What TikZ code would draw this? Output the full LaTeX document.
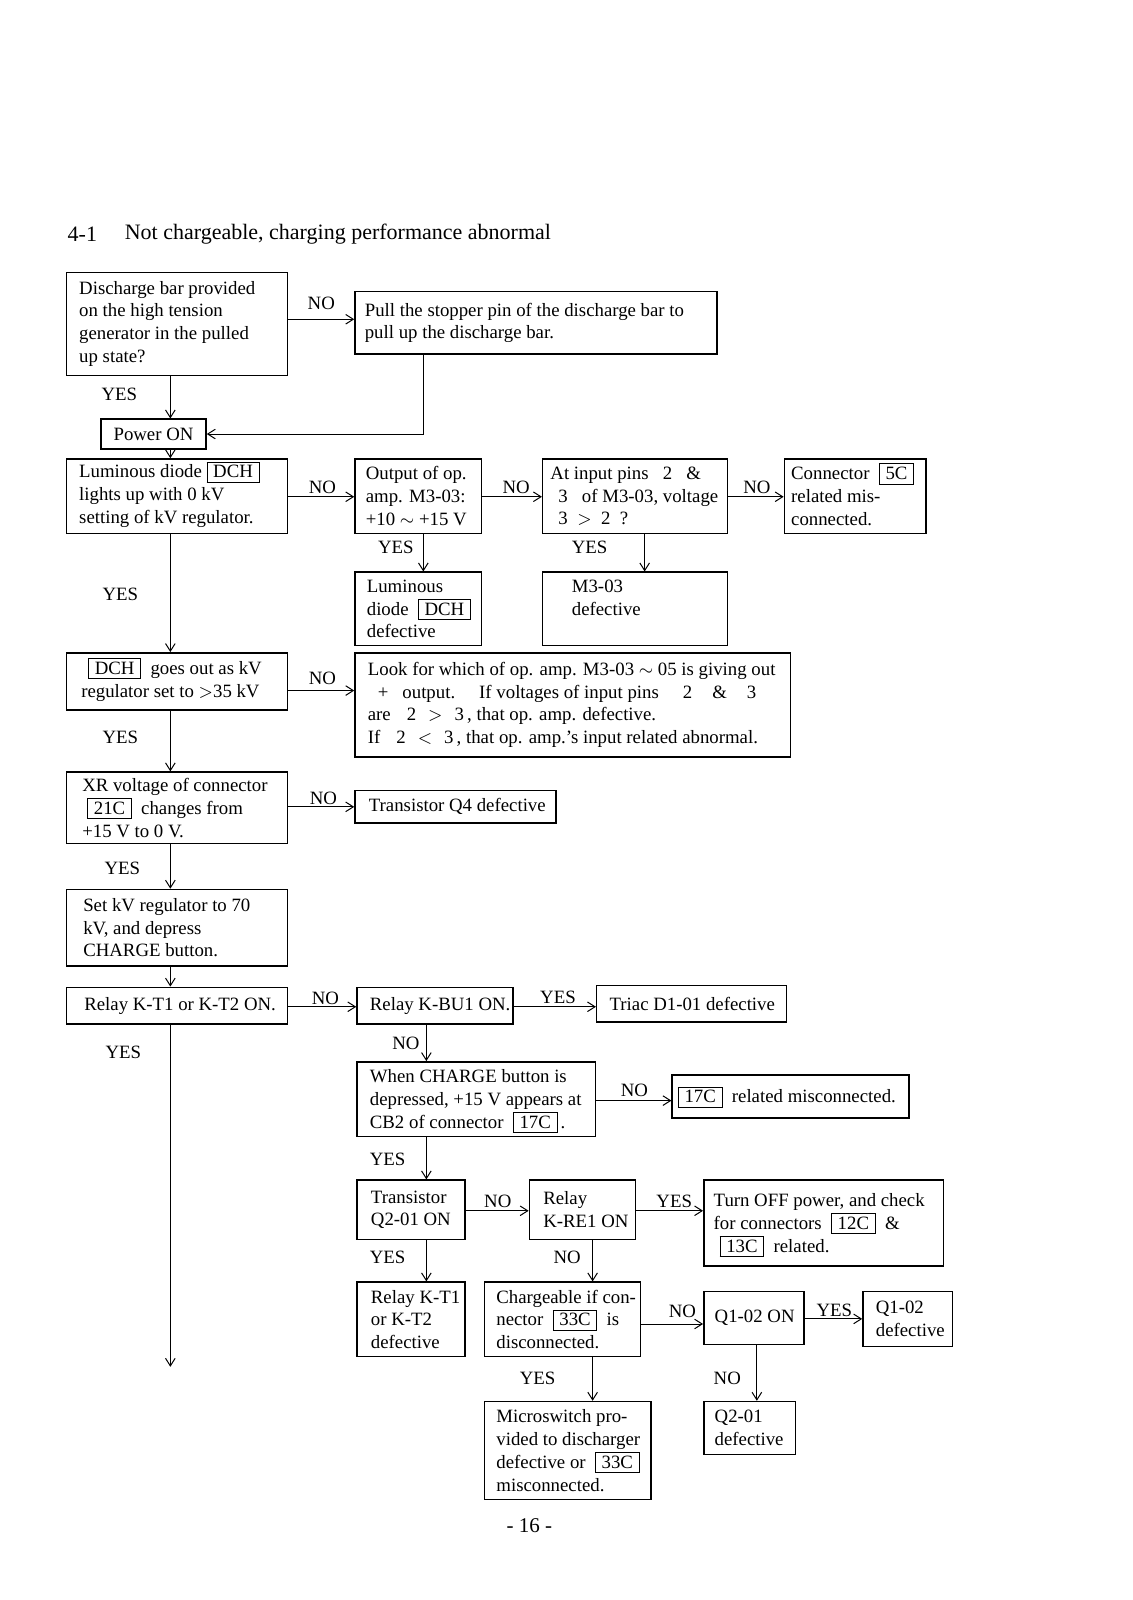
\documentclass[tikz,border=0pt]{standalone}
\usepackage{fontspec}
\setmainfont{Liberation Serif}
\usetikzlibrary{arrows.meta,fit,calc}
\newcommand\bx[1]{\smash{\setlength\fboxsep{0.8pt}\setlength\fboxrule{0.5pt}\fbox{\rule[-1.2pt]{0pt}{8pt}\hspace{2pt}#1\hspace{2pt}}}}
\newcommand\fb[7]{%
  \node[box, fit={(#2,#3) (#4,#5)}] (#1) {};
  \node[txt] (#1t) at ($(#1.west)+(#6,0)$) {#7};}
\begin{document}
\begin{tikzpicture}[x=0.51pt,y=-0.51pt,
  box/.style={draw, line width=0.75pt, inner sep=0pt},
  txt/.style={anchor=west, align=left, inner sep=0pt, font=\fontsize{9.4}{11.4}\selectfont},
  lab/.style={inner sep=0pt, font=\fontsize{9.4}{11.4}\selectfont},
  arr/.style={line width=0.5pt, -{Straight Barb[length=3.8pt,width=4.8pt]}},
  ln/.style={line width=0.5pt}]
\useasboundingbox (0,0) rectangle (1109.8,1568.6);
% title
\node[anchor=west, inner sep=0pt, font=\fontsize{11}{13}\selectfont] (ttl1) at (66,230) {4-1};
\node[anchor=west, inner sep=0pt, font=\fontsize{11}{13}\selectfont] (ttl2) at (122,230) {Not chargeable, charging performance abnormal};
% boxes
\fb{A}{65}{267}{282}{368}{13}{Discharge bar provided\\ on the high tension\\ generator in the pulled\\ up state?}
\fb{B}{348}{286}{703}{347}{10}{Pull the stopper pin of the discharge bar to\\ pull up the discharge bar.}
\node[box, fit={(99,411) (202,440)}] (PWR) {};
\node[lab] (PWRt) at (PWR.center) {Power ON};
\fb{C}{65}{450}{282}{523}{13}{Luminous diode \bx{DCH}\\ lights up with 0 kV\\ setting of kV regulator.}
\fb{D}{348}{450}{472}{523}{11}{Output of op.\\ amp. M3-03:\\ +10 $\sim$ +15 V}
\fb{E}{532}{450}{713}{523}{8}{At input pins\ \ \ 2\ \ \ \&\\ \hspace*{4pt}3\ \ \ of M3-03, voltage\\ \hspace*{4pt}3\ \ $>$\ \ 2\ \ ?}
\fb{F}{769}{450}{908}{523}{7}{Connector\ \ \bx{5C}\\ related mis-\\ connected.}
\fb{G}{348}{561}{472}{633}{12}{Luminous\\ diode\ \ \bx{DCH}\\ defective}
\node[box, fit={(532,561) (713,633)}] (H) {};
\node[txt] (Ht) at ($(H.west)+(29,-11)$) {M3-03\\ defective};
\fb{I}{65}{640}{282}{696}{15}{\hspace*{3.5pt}\bx{DCH}\ \ goes out as kV\\ regulator set to $>$35 kV}
\fb{J}{348}{640}{775}{742}{13}{Look for which of op. amp. M3-03 $\sim$ 05 is giving out\\
\hspace*{5pt}+\hspace{7pt}output.\hspace{12pt}If voltages of input pins\hspace{12pt}2\hspace{10pt}\&\hspace{10pt}3\\
are\hspace{8pt}2\hspace{6pt}$>$\hspace{6pt}3\,, that op. amp. defective.\\
If\hspace{8pt}2\hspace{6pt}$<$\hspace{6pt}3\,, that op. amp.'s input related abnormal.}
\fb{K}{65}{757}{282}{827}{16}{XR voltage of connector\\ \hspace*{2.5pt}\bx{21C}\ \ changes from\\ +15 V to 0 V.}
\fb{L}{348}{775}{545}{807}{14}{Transistor Q4 defective}
\fb{M}{65}{872}{282}{947}{17}{Set kV regulator to 70\\ kV, and depress\\ CHARGE button.}
\fb{N}{65}{968}{282}{1004}{18}{Relay K-T1 or K-T2 ON.}
\fb{O}{350}{968}{503}{1004}{13}{Relay K-BU1 ON.}
\fb{P}{585}{966}{771}{1002}{13}{Triac D1-01 defective}
\fb{Q}{350}{1041}{584}{1114}{13}{When CHARGE button is\\ depressed, +15 V appears at\\ CB2 of connector\ \ \bx{17C}\,.}
\fb{R}{659}{1054}{891}{1096}{6}{\bx{17C}\ \ related misconnected.}
\fb{S}{350}{1157}{456}{1215}{14}{Transistor\\ Q2-01 ON}
\fb{T}{519}{1157}{623}{1215}{14}{Relay\\ K-RE1 ON}
\fb{U}{690}{1157}{925}{1241}{10}{Turn OFF power, and check\\ for connectors\ \ \bx{12C}\ \ \&\\ \hspace*{3pt}\bx{13C}\ \ related.}
\fb{V}{350}{1257}{456}{1330}{14}{Relay K-T1\\ or K-T2\\ defective}
\fb{W}{475}{1257}{628}{1330}{12}{Chargeable if con-\\ nector\ \ \bx{33C}\ \ is\\ disconnected.}
\fb{X}{690}{1266}{788}{1318}{11}{Q1-02 ON}
\fb{Y}{846}{1266}{934}{1320}{13}{Q1-02\\ defective}
\fb{Z}{475}{1374}{638}{1470}{12}{Microswitch pro-\\ vided to discharger\\ defective or\ \ \bx{33C}\\ misconnected.}
\fb{AA}{690}{1374}{780}{1426}{11}{Q2-01\\ defective}
% helper coordinates
\coordinate (xtr) at (167,0);
\coordinate (xb) at (415,0);
\coordinate (xe) at (632,0);
\coordinate (xo) at (418,0);
\coordinate (xw) at (581,0);
\coordinate (xx) at (742,0);
\coordinate (yab) at (0,313);
\coordinate (ycd) at (0,487);
\coordinate (yij) at (0,677);
\coordinate (ykl) at (0,791);
\coordinate (yno) at (0,987);
\coordinate (yqr) at (0,1079);
\coordinate (yst) at (0,1187);
\coordinate (ywx) at (0,1298);
\coordinate (yxy) at (0,1293);
\coordinate (tend) at (167,1340);
% connectors
\draw[arr] (A.east |- yab) -- (B.west |- yab);
\draw[arr] (A.south -| xtr) -- (PWR.north -| xtr);
\draw[arr] (B.south -| xb) |- (PWR.east);
\draw[arr] (PWR.south -| xtr) -- (C.north -| xtr);
\draw[arr] (C.east |- ycd) -- (D.west |- ycd);
\draw[arr] (D.east |- ycd) -- (E.west |- ycd);
\draw[arr] (E.east |- ycd) -- (F.west |- ycd);
\draw[arr] (D.south -| xb) -- (G.north -| xb);
\draw[arr] (E.south -| xe) -- (H.north -| xe);
\draw[arr] (C.south -| xtr) -- (I.north -| xtr);
\draw[arr] (I.east |- yij) -- (J.west |- yij);
\draw[arr] (I.south -| xtr) -- (K.north -| xtr);
\draw[arr] (K.east |- ykl) -- (L.west |- ykl);
\draw[arr] (K.south -| xtr) -- (M.north -| xtr);
\draw[arr] (M.south -| xtr) -- (N.north -| xtr);
\draw[arr] (N.east |- yno) -- (O.west |- yno);
\draw[arr] (O.east |- yno) -- (P.west |- yno);
\draw[arr] (N.south -| xtr) -- (tend);
\draw[arr] (O.south -| xo) -- (Q.north -| xo);
\draw[arr] (Q.east |- yqr) -- (R.west |- yqr);
\draw[arr] (Q.south -| xo) -- (S.north -| xo);
\draw[arr] (S.east |- yst) -- (T.west |- yst);
\draw[arr] (T.east |- yst) -- (U.west |- yst);
\draw[arr] (S.south -| xo) -- (V.north -| xo);
\draw[arr] (T.south -| xw) -- (W.north -| xw);
\draw[arr] (W.east |- ywx) -- (X.west |- ywx);
\draw[arr] (X.east |- yxy) -- (Y.west |- yxy);
\draw[arr] (W.south -| xw) -- (Z.north -| xw);
\draw[arr] (X.south -| xx) -- (AA.north -| xx);
% labels
\node[lab] (l1) at (315,297) {NO};
\node[lab] (l2) at (117,387) {YES};
\node[lab] (l3) at (316,478) {NO};
\node[lab] (l4) at (506,478) {NO};
\node[lab] (l5) at (742,478) {NO};
\node[lab] (l6) at (388,537) {YES};
\node[lab] (l7) at (578,537) {YES};
\node[lab] (l8) at (118,583) {YES};
\node[lab] (l9) at (316,665) {NO};
\node[lab] (l10) at (118,723) {YES};
\node[lab] (l11) at (317,783) {NO};
\node[lab] (l12) at (120,851) {YES};
\node[lab] (l13) at (319,979) {NO};
\node[lab] (l14) at (547,978) {YES};
\node[lab] (l15) at (121,1032) {YES};
\node[lab] (l16) at (398,1023) {NO};
\node[lab] (l17) at (622,1069) {NO};
\node[lab] (l18) at (380,1137) {YES};
\node[lab] (l19) at (488,1178) {NO};
\node[lab] (l20) at (661,1178) {YES};
\node[lab] (l21) at (380,1233) {YES};
\node[lab] (l22) at (556,1233) {NO};
\node[lab] (l23) at (669,1286) {NO};
\node[lab] (l24) at (818,1285) {YES};
\node[lab] (l25) at (527,1351) {YES};
\node[lab] (l26) at (713,1351) {NO};
\node[inner sep=0pt, font=\fontsize{10.5}{12}\selectfont] (pg) at (519,1496) {- 16 -};
\end{tikzpicture}
\end{document}
